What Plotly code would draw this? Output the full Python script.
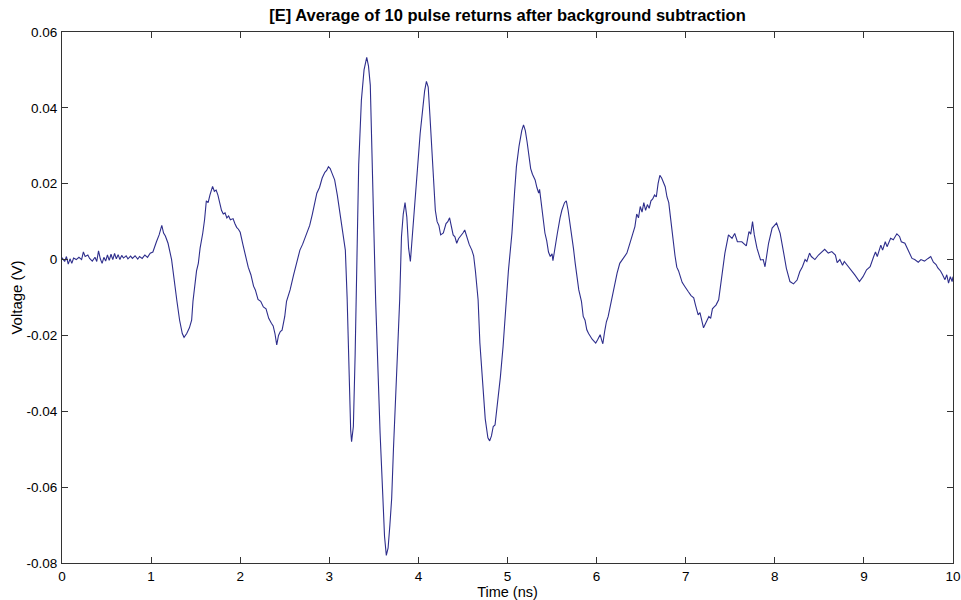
import plotly.graph_objects as go

# Averaged pulse return (background subtracted): time in ns, voltage in V
time_ns = [
    0.00, 0.03, 0.05, 0.07, 0.09, 0.11, 0.13, 0.16, 0.19, 0.22, 0.24, 0.26, 0.29, 0.31, 0.34,
    0.37, 0.39, 0.41, 0.43, 0.45, 0.47, 0.49, 0.51, 0.53, 0.55, 0.57, 0.59, 0.61, 0.63, 0.65,
    0.67, 0.69, 0.72, 0.74, 0.77, 0.79, 0.82, 0.85, 0.87, 0.90, 0.93, 0.96, 0.99, 1.02, 1.06,
    1.09, 1.12, 1.14, 1.16, 1.19, 1.23, 1.26, 1.29, 1.32, 1.35, 1.37, 1.40, 1.43, 1.455, 1.47,
    1.49, 1.51, 1.53, 1.55, 1.58, 1.60, 1.62, 1.64, 1.66, 1.69, 1.71, 1.73, 1.75, 1.77, 1.79,
    1.81, 1.83, 1.85, 1.87, 1.89, 1.92, 1.94, 1.96, 1.98, 2.00, 2.03, 2.06, 2.09, 2.12, 2.15,
    2.17, 2.20, 2.23, 2.26, 2.29, 2.32, 2.35, 2.37, 2.39, 2.41, 2.43, 2.45, 2.47, 2.50, 2.52,
    2.56, 2.60, 2.64, 2.67, 2.70, 2.75, 2.78, 2.81, 2.84, 2.86, 2.89, 2.92, 2.95, 2.97, 2.99,
    3.01, 3.03, 3.06, 3.09, 3.12, 3.15, 3.18, 3.20, 3.22, 3.24, 3.25, 3.27, 3.29, 3.31, 3.33,
    3.36, 3.39, 3.42, 3.44, 3.46, 3.48, 3.50, 3.52, 3.55, 3.57, 3.60, 3.62, 3.64, 3.66, 3.68,
    3.70, 3.72, 3.74, 3.77, 3.79, 3.81, 3.83, 3.85, 3.87, 3.89, 3.91, 3.93, 3.96, 3.99, 4.02,
    4.05, 4.07, 4.09, 4.11, 4.13, 4.15, 4.17, 4.19, 4.21, 4.23, 4.25, 4.28, 4.31, 4.33, 4.35,
    4.37, 4.39, 4.41, 4.43, 4.45, 4.47, 4.50, 4.52, 4.54, 4.57, 4.60, 4.62, 4.64, 4.67, 4.69,
    4.72, 4.75, 4.78, 4.80, 4.82, 4.84, 4.86, 4.89, 4.92, 4.95, 4.97, 4.99, 5.01, 5.03, 5.05,
    5.08, 5.10, 5.13, 5.16, 5.18, 5.20, 5.22, 5.24, 5.26, 5.28, 5.31, 5.33, 5.35, 5.36, 5.38,
    5.40, 5.42, 5.44, 5.46, 5.48, 5.50, 5.51, 5.53, 5.56, 5.59, 5.61, 5.64, 5.66, 5.68, 5.70,
    5.72, 5.74, 5.76, 5.78, 5.80, 5.83, 5.85, 5.87, 5.89, 5.91, 5.93, 5.95, 5.97, 5.99, 6.01,
    6.03, 6.04, 6.06, 6.07, 6.09, 6.11, 6.13, 6.15, 6.17, 6.19, 6.21, 6.23, 6.26, 6.29, 6.31,
    6.34, 6.37, 6.40, 6.43, 6.45, 6.47, 6.49, 6.51, 6.53, 6.55, 6.57, 6.59, 6.61, 6.63, 6.65,
    6.67, 6.69, 6.71, 6.73, 6.75, 6.77, 6.79, 6.81, 6.83, 6.86, 6.88, 6.90, 6.92, 6.94, 6.96,
    6.99, 7.01, 7.03, 7.06, 7.09, 7.11, 7.13, 7.14, 7.16, 7.18, 7.20, 7.22, 7.24, 7.26, 7.28,
    7.30, 7.32, 7.34, 7.37, 7.39, 7.41, 7.44, 7.48, 7.52, 7.55, 7.58, 7.63, 7.68, 7.71, 7.73,
    7.75, 7.77, 7.80, 7.84, 7.87, 7.89, 7.93, 7.97, 8.02, 8.06, 8.10, 8.13, 8.17, 8.21, 8.25,
    8.28, 8.31, 8.34, 8.36, 8.39, 8.41, 8.45, 8.49, 8.53, 8.56, 8.60, 8.64, 8.68, 8.70, 8.73,
    8.76, 8.78, 8.83, 8.86, 8.90, 8.95, 8.99, 9.03, 9.07, 9.11, 9.13, 9.15, 9.19, 9.21, 9.24,
    9.26, 9.30, 9.33, 9.37, 9.40, 9.42, 9.46, 9.50, 9.54, 9.57, 9.61, 9.64, 9.68, 9.72, 9.75,
    9.78, 9.81, 9.83, 9.86, 9.88, 9.91, 9.93, 9.95, 9.97, 9.99, 10.00,
]

voltage_v = [
    0.0005, -0.0005, 0.0008, -0.0012, 0.0002, -0.0010, 0.0004, 0.0000, 0.0006, 0.0000, 0.0020, 0.0008, 0.0012, 0.0003, -0.0004,
    0.0006, -0.0005, 0.0023, 0.0002, -0.0010, 0.0006, -0.0004, 0.0012, -0.0002, 0.0014, 0.0000, 0.0016, 0.0002, 0.0013, 0.0000,
    0.0011, 0.0004, 0.0010, 0.0002, 0.0009, 0.0003, 0.0010, 0.0001, 0.0008, 0.0003, 0.0012, 0.0006, 0.0017, 0.0020, 0.0047,
    0.0065, 0.0090, 0.0070, 0.0062, 0.0043, 0.0000, -0.0060, -0.0110, -0.0160, -0.0195, -0.0205, -0.0195, -0.0180, -0.0160, -0.0110,
    -0.0070, -0.0030, -0.0010, 0.0030, 0.0070, 0.0105, 0.0155, 0.0150, 0.0170, 0.0193, 0.0180, 0.0183, 0.0170, 0.0150, 0.0130,
    0.0120, 0.0123, 0.0110, 0.0115, 0.0105, 0.0108, 0.0095, 0.0085, 0.0080, 0.0072, 0.0040, 0.0010, -0.0020, -0.0040, -0.0070,
    -0.0080, -0.0105, -0.0110, -0.0125, -0.0130, -0.0155, -0.0168, -0.0175, -0.0195, -0.0225, -0.0200, -0.0190, -0.0186, -0.0150, -0.0110,
    -0.0080, -0.0040, 0.0000, 0.0025, 0.0040, 0.0070, 0.0090, 0.0120, 0.0150, 0.0175, 0.0190, 0.0215, 0.0230, 0.0235, 0.0245,
    0.0240, 0.0228, 0.0210, 0.0170, 0.0122, 0.0080, 0.0025, -0.0100, -0.0300, -0.0450, -0.0480, -0.0440, -0.0250, 0.0000, 0.0250,
    0.0420, 0.0500, 0.0533, 0.0510, 0.0460, 0.0300, 0.0080, -0.0106, -0.0330, -0.0457, -0.0620, -0.0730, -0.0780, -0.0760, -0.0700,
    -0.0630, -0.0500, -0.0370, -0.0220, -0.0106, 0.0060, 0.0120, 0.0150, 0.0112, 0.0030, -0.0005, 0.0060, 0.0157, 0.0250, 0.0333,
    0.0400, 0.0445, 0.0470, 0.0455, 0.0377, 0.0290, 0.0200, 0.0130, 0.0100, 0.0090, 0.0065, 0.0070, 0.0095, 0.0100, 0.0110,
    0.0085, 0.0065, 0.0060, 0.0043, 0.0055, 0.0060, 0.0070, 0.0078, 0.0060, 0.0040, 0.0025, 0.0010, -0.0030, -0.0106, -0.0220,
    -0.0330, -0.0420, -0.0470, -0.0478, -0.0465, -0.0440, -0.0436, -0.0380, -0.0310, -0.0230, -0.0160, -0.0106, -0.0030, 0.0020, 0.0070,
    0.0180, 0.0245, 0.0300, 0.0340, 0.0355, 0.0340, 0.0310, 0.0275, 0.0240, 0.0225, 0.0210, 0.0190, 0.0175, 0.0185, 0.0150,
    0.0110, 0.0070, 0.0050, 0.0020, 0.0008, 0.0015, -0.0003, 0.0030, 0.0070, 0.0110, 0.0130, 0.0150, 0.0155, 0.0130, 0.0100,
    0.0070, 0.0030, -0.0010, -0.0040, -0.0080, -0.0110, -0.0150, -0.0160, -0.0185, -0.0195, -0.0203, -0.0210, -0.0215, -0.0220, -0.0212,
    -0.0205, -0.0198, -0.0215, -0.0222, -0.0190, -0.0164, -0.0150, -0.0125, -0.0106, -0.0080, -0.0060, -0.0036, -0.0010, 0.0000, 0.0010,
    0.0017, 0.0040, 0.0065, 0.0087, 0.0120, 0.0110, 0.0140, 0.0125, 0.0150, 0.0130, 0.0145, 0.0135, 0.0155, 0.0160, 0.0170,
    0.0165, 0.0200, 0.0222, 0.0215, 0.0205, 0.0192, 0.0165, 0.0150, 0.0110, 0.0043, 0.0010, -0.0020, -0.0030, -0.0045, -0.0060,
    -0.0071, -0.0080, -0.0085, -0.0095, -0.0101, -0.0120, -0.0140, -0.0146, -0.0140, -0.0165, -0.0180, -0.0170, -0.0160, -0.0150, -0.0155,
    -0.0130, -0.0125, -0.0120, -0.0106, -0.0070, -0.0030, 0.0017, 0.0065, 0.0056, 0.0069, 0.0047, 0.0047, 0.0036, 0.0074, 0.0067,
    0.0100, 0.0065, 0.0030, -0.0001, 0.0000, -0.0019, 0.0043, 0.0083, 0.0096, 0.0069, 0.0017, -0.0023, -0.0058, -0.0064, -0.0054,
    -0.0032, -0.0019, 0.0000, -0.0005, 0.0017, 0.0008, 0.0000, 0.0012, 0.0021, 0.0027, 0.0017, 0.0021, 0.0012, -0.0008, 0.0000,
    -0.0015, -0.0005, -0.0019, -0.0027, -0.0041, -0.0058, -0.0045, -0.0027, -0.0019, 0.0008, 0.0020, 0.0008, 0.0038, 0.0025, 0.0047,
    0.0034, 0.0056, 0.0052, 0.0068, 0.0061, 0.0047, 0.0043, 0.0021, 0.0003, 0.0000, -0.0007, 0.0000, -0.0004, 0.0003, 0.0008,
    -0.0007, -0.0013, -0.0022, -0.0030, -0.0039, -0.0053, -0.0040, -0.0062, -0.0045, -0.0058, -0.0045,
]

x_ticks = [0, 1, 2, 3, 4, 5, 6, 7, 8, 9, 10]
y_ticks = [-0.08, -0.06, -0.04, -0.02, 0, 0.02, 0.04, 0.06]
y_tick_labels = ["-0.08", "-0.06", "-0.04", "-0.02", "0", "0.02", "0.04", "0.06"]

FONT = "Arial, Liberation Sans, sans-serif"

fig = go.Figure()
fig.add_trace(go.Scatter(
    x=time_ns, y=voltage_v, mode="lines",
    line=dict(color="#2e2e8c", width=1.1),
    showlegend=False,
))

axis_common = dict(
    showgrid=False, zeroline=False, showline=True, linecolor="#333333", linewidth=1,
    mirror="allticks", ticks="inside", ticklen=6, tickcolor="#333333",
    tickfont=dict(family=FONT, size=13.5, color="#000000"),
    automargin=False,
)

fig.update_layout(
    width=961, height=600,
    margin=dict(l=62, r=8, t=32, b=37),
    paper_bgcolor="white", plot_bgcolor="white",
    font=dict(family=FONT, size=13, color="#000000"),
    title=dict(
        text="<b>[E] Average of 10 pulse returns after background subtraction</b>",
        x=0.5, xref="paper", xanchor="center",
        y=1 - 15 / 600, yref="container", yanchor="middle",
        font=dict(family=FONT, size=16.5, color="#000000"),
        automargin=False,
    ),
    xaxis=dict(
        range=[0, 10], tickvals=x_ticks, ticktext=[str(v) for v in x_ticks],
        title=dict(text="Time (ns)", standoff=0, font=dict(family=FONT, size=14.5)),
        ticklabelstandoff=1,
        **axis_common,
    ),
    yaxis=dict(
        range=[-0.08, 0.06], tickvals=y_ticks, ticktext=y_tick_labels,
        title=dict(text="Voltage (V)", standoff=0, font=dict(family=FONT, size=15)),
        ticklabelstandoff=1,
        **axis_common,
    ),
)

fig.write_html("out.html")
